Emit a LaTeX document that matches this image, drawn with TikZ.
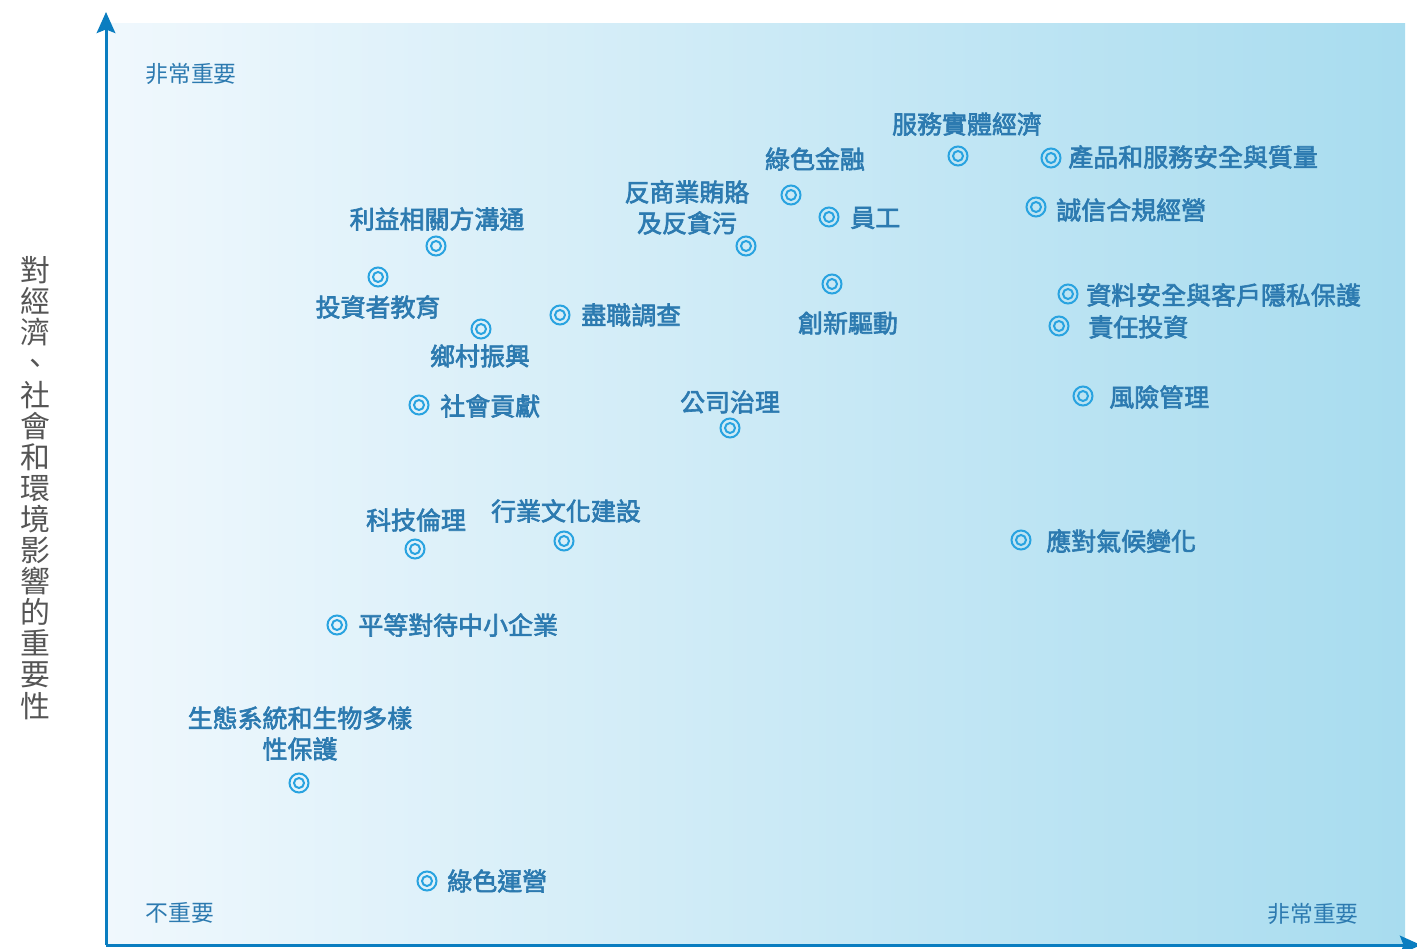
\documentclass[tikz,border=0pt]{standalone}
\usepackage{fontspec}
\setmainfont{Noto Sans CJK TC}
\newfontfamily\topicfont{Noto Sans CJK TC}[FakeBold=2.5]
\usetikzlibrary{arrows.meta}
\definecolor{axisblue}{RGB}{10,125,192}
\definecolor{textblue}{RGB}{44,122,176}
\definecolor{ringblue}{RGB}{41,163,224}
\definecolor{bgleft}{RGB}{240,248,253}
\definecolor{bgright}{RGB}{168,220,239}
\definecolor{titlegray}{RGB}{85,85,85}
\begin{document}
\begin{tikzpicture}[x=0.02cm, y=-0.02cm,
        ring/.style={circle, draw=ringblue, line width=0.04cm, minimum size=0.38cm, inner sep=0pt,
            path picture={\draw[ringblue, line width=0.04cm] (path picture bounding box.center) circle (0.1cm);}},
        topic/.style={text=textblue, font=\fontsize{14.2pt}{17.6pt}\topicfont, inner sep=0pt, align=center},
        level/.style={text=textblue, font=\fontsize{13pt}{16pt}\selectfont, inner sep=0pt},
        axis/.style={axisblue, line width=0.06cm, -{Stealth[length=0.42cm, width=0.37cm, inset=0.07cm]}}]
        \useasboundingbox (0,0) rectangle (1417,949);
        \shade[left color=bgleft, right color=bgright] (106,24) rectangle (1405,945);

        \coordinate (origin) at (106,945);
        \coordinate (ytip) at (106,12);
        \coordinate (xtip) at (1421,945);
        \draw[axis] (origin) -- (ytip);
        \draw[axis] (origin) -- (xtip);

        \node[level] (ytop) at (191,74) {非常重要};
        \node[level] (low) at (180,913) {不重要};
        \node[level] (xright) at (1313,914) {非常重要};
        \node[text=titlegray, font=\fontsize{17pt}{17.7pt}\selectfont, inner sep=0pt, align=center] (ytitle) at (35,488)
            {對\\經\\濟\\、\\社\\會\\和\\環\\境\\影\\響\\的\\重\\要\\性};

        \node[topic] (economy) at (967,124) {服務實體經濟};
        \node[ring] (economy-m) at (958,156) {};
        \node[ring] (quality-m) at (1051,158) {};
        \node[topic, anchor=west] (quality) at (1068,157) {產品和服務安全與質量};
        \node[topic] (finance) at (815,159) {綠色金融};
        \node[ring] (finance-m) at (791,195) {};
        \node[ring] (staff-m) at (829,217) {};
        \node[topic, anchor=west] (staff) at (850,218) {員工};
        \node[topic] (bribery) at (687,207.5) {反商業賄賂\\及反貪污};
        \node[ring] (bribery-m) at (746,246) {};
        \node[ring] (compliance-m) at (1036,207) {};
        \node[topic, anchor=west] (compliance) at (1056,210) {誠信合規經營};
        \node[topic] (stakeholder) at (437,219) {利益相關方溝通};
        \node[ring] (stakeholder-m) at (436,246) {};
        \node[ring] (investor-m) at (378,277) {};
        \node[topic] (investor) at (378,307) {投資者教育};
        \node[ring] (innovation-m) at (832,284) {};
        \node[topic] (innovation) at (848,323) {創新驅動};
        \node[ring] (privacy-m) at (1068,294) {};
        \node[topic, anchor=west] (privacy) at (1086,295) {資料安全與客戶隱私保護};
        \node[ring] (invest-m) at (1059,326) {};
        \node[topic, anchor=west] (invest) at (1088,327) {責任投資};
        \node[ring] (diligence-m) at (560,315) {};
        \node[topic, anchor=west] (diligence) at (581,315) {盡職調查};
        \node[ring] (rural-m) at (481,329) {};
        \node[topic] (rural) at (480,356) {鄉村振興};
        \node[ring] (charity-m) at (419,405) {};
        \node[topic, anchor=west] (charity) at (440,406) {社會貢獻};
        \node[topic] (governance) at (730,402) {公司治理};
        \node[ring] (governance-m) at (730,428) {};
        \node[ring] (risk-m) at (1083,396) {};
        \node[topic, anchor=west] (risk) at (1109,397) {風險管理};
        \node[topic] (ethics) at (416,520) {科技倫理};
        \node[ring] (ethics-m) at (415,549) {};
        \node[topic] (culture) at (566,511) {行業文化建設};
        \node[ring] (culture-m) at (564,541) {};
        \node[ring] (climate-m) at (1021,540) {};
        \node[topic, anchor=west] (climate) at (1046,541) {應對氣候變化};
        \node[ring] (sme-m) at (337,625) {};
        \node[topic, anchor=west] (sme) at (358,625) {平等對待中小企業};
        \node[topic] (biodiversity) at (300,733.5) {生態系統和生物多樣\\性保護};
        \node[ring] (biodiversity-m) at (299,783) {};
        \node[ring] (operation-m) at (427,881) {};
        \node[topic, anchor=west] (operation) at (447,881) {綠色運營};
\end{tikzpicture}
\end{document}
